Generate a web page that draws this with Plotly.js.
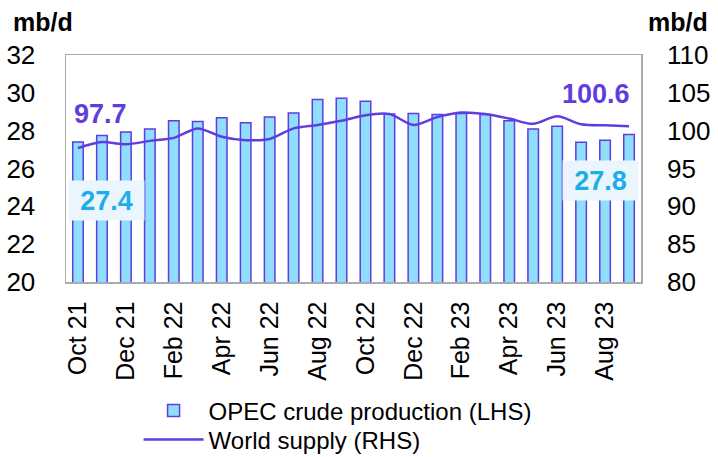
<!DOCTYPE html>
<html>
<head>
<meta charset="utf-8">
<script src="https://cdn.plot.ly/plotly-3.0.1.min.js"></script>
<style>
  html, body { margin: 0; padding: 0; background: #fff; }
  #chart { width: 718px; height: 457px; }
</style>
</head>
<body>
<div id="chart"></div>
<script>
'use strict'

// monthly, Oct 21 .. Sep 23
var months = ['Oct 21', 'Nov 21', 'Dec 21', 'Jan 22', 'Feb 22', 'Mar 22', 'Apr 22', 'May 22',
    'Jun 22', 'Jul 22', 'Aug 22', 'Sep 22', 'Oct 22', 'Nov 22', 'Dec 22', 'Jan 23',
    'Feb 23', 'Mar 23', 'Apr 23', 'May 23', 'Jun 23', 'Jul 23', 'Aug 23', 'Sep 23'];

// OPEC crude production, mb/d (LHS)
var opecCrude = [27.4, 27.75, 27.93, 28.09, 28.53, 28.48, 28.68, 28.42, 28.72, 28.93, 29.65, 29.71,
    29.56, 28.88, 28.91, 28.86, 28.91, 28.86, 28.52, 28.09, 28.24, 27.39, 27.49, 27.8];

// World supply, mb/d (RHS)
var worldSupply = [97.7, 98.5, 98.2, 98.65, 99.05, 100.3, 99.2, 98.75, 98.9, 100.3, 100.75, 101.3,
    102.05, 102.2, 100.75, 101.8, 102.4, 102.2, 101.6, 100.9, 101.9, 100.85, 100.7, 100.6];

var tickMonths = months.filter(function (m, i) { return i % 2 === 0; });

var purple = '#5F3DDE';
var cyan = '#1BAEEA';
var font = 'Arial, "Liberation Sans", sans-serif';

var OpecBars = {
    type: 'bar',
    name: 'OPEC crude production (LHS)',
    x: months,
    y: opecCrude,
    width: 0.44,
    marker: {
        color: '#8FDFFC',
        line: {color: purple, width: 1.5}
    },
    yaxis: 'y',
    legend: 'legend'
};

var SupplyLine = {
    type: 'scatter',
    mode: 'lines',
    name: 'World supply (RHS)',
    x: months,
    y: worldSupply,
    line: {color: purple, width: 2.5, shape: 'spline', smoothing: 0.8},
    yaxis: 'y2',
    legend: 'legend2'
};

var legendBase = {
    xref: 'container', yref: 'container',
    x: 0.193, xanchor: 'left', yanchor: 'middle',
    font: {size: 24, color: '#000'},
    itemwidth: 60,
    bgcolor: 'rgba(0,0,0,0)'
};

var layout = {
    width: 718,
    height: 457,
    margin: {l: 66, r: 77, t: 55, b: 175, autoexpand: false},
    paper_bgcolor: '#ffffff',
    plot_bgcolor: '#ffffff',
    font: {family: font, color: '#000', size: 26},
    showlegend: true,
    legend: Object.assign({}, legendBase, {y: (457 - 411) / 457}),
    legend2: Object.assign({}, legendBase, {y: (457 - 440) / 457}),
    xaxis: {
        type: 'category',
        range: [-0.5, 23.5],
        tickmode: 'array',
        tickvals: tickMonths,
        ticktext: tickMonths,
        tickangle: -90,
        ticks: '',
        ticklabelstandoff: 8,
        tickfont: {size: 25},
        showgrid: false,
        showline: true,
        mirror: true,
        linecolor: '#ABABAB',
        linewidth: 1.5,
        zeroline: false
    },
    yaxis: {
        range: [20, 32],
        dtick: 2,
        ticks: '',
        ticklabelstandoff: 24,
        tickfont: {size: 26},
        showgrid: false,
        showline: true,
        mirror: true,
        linecolor: '#ABABAB',
        linewidth: 1.5,
        zeroline: false
    },
    yaxis2: {
        overlaying: 'y',
        side: 'right',
        range: [80, 110],
        dtick: 5,
        ticks: '',
        ticklabelstandoff: 25,
        tickfont: {size: 26},
        showgrid: false,
        showline: false,
        zeroline: false
    },
    annotations: [
        {
            xref: 'paper', yref: 'paper', x: -0.096, y: 1.145, xanchor: 'left', yanchor: 'middle',
            text: '<b>mb/d</b>', showarrow: false, font: {size: 25, color: '#000'}
        },
        {
            xref: 'paper', yref: 'paper', x: 1.12, y: 1.145, xanchor: 'right', yanchor: 'middle',
            text: '<b>mb/d</b>', showarrow: false, font: {size: 25, color: '#000'}
        },
        {
            xref: 'paper', yref: 'paper', x: 0.011, y: 0.742, xanchor: 'left', yanchor: 'middle',
            text: '<b>' + worldSupply[0].toFixed(1) + '</b>', showarrow: false,
            font: {size: 27, color: purple}
        },
        {
            xref: 'paper', yref: 'paper', x: 0.071, y: 0.361, xanchor: 'center', yanchor: 'middle',
            text: '<b>' + opecCrude[0].toFixed(1) + '</b>', showarrow: false,
            font: {size: 27, color: cyan}, bgcolor: '#EAF5FD', borderpad: 2, width: 71, height: 35
        },
        {
            xref: 'paper', yref: 'paper', x: 0.985, y: 0.83, xanchor: 'right', yanchor: 'middle',
            text: '<b>' + worldSupply[worldSupply.length - 1].toFixed(1) + '</b>', showarrow: false,
            font: {size: 27, color: purple}
        },
        {
            xref: 'paper', yref: 'paper', x: 0.929, y: 0.449, xanchor: 'center', yanchor: 'middle',
            text: '<b>' + opecCrude[opecCrude.length - 1].toFixed(1) + '</b>', showarrow: false,
            font: {size: 27, color: cyan}, bgcolor: '#EAF5FD', borderpad: 2, width: 71, height: 35
        }
    ]
};

Plotly.newPlot('chart', [OpecBars, SupplyLine], layout, {displayModeBar: false, staticPlot: true});
</script>
</body>
</html>
